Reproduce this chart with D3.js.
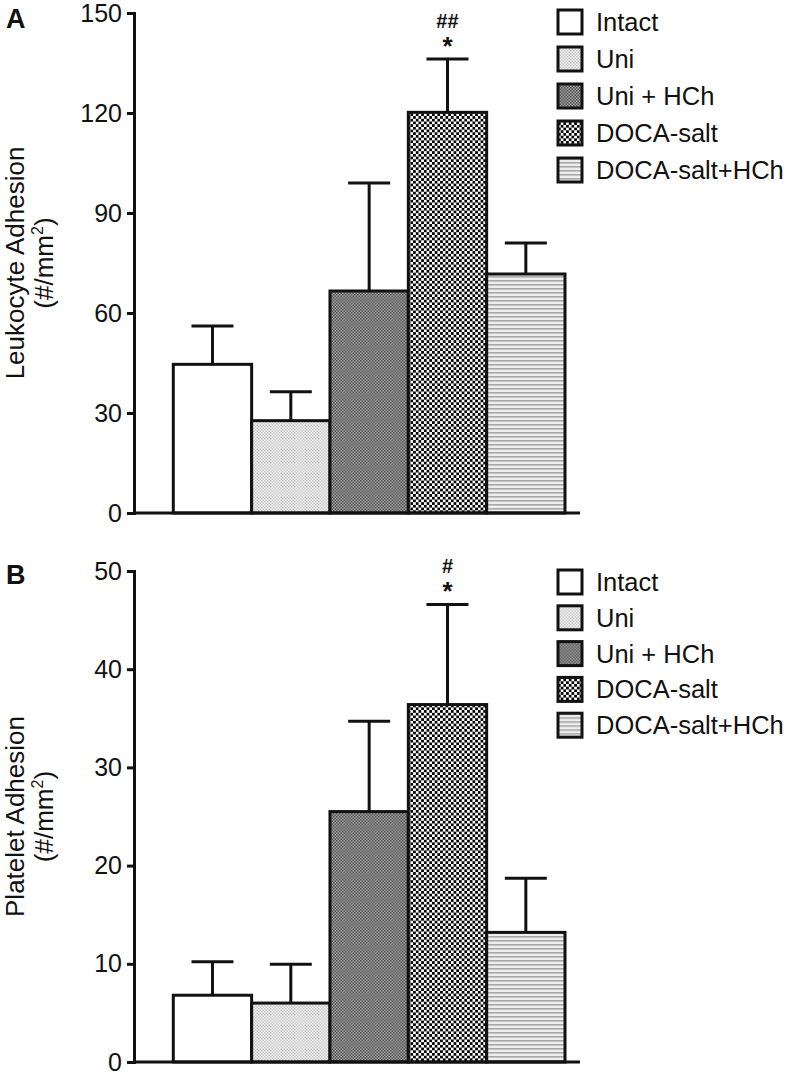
<!DOCTYPE html>
<html><head><meta charset="utf-8">
<script src="https://cdn.jsdelivr.net/npm/d3@7/dist/d3.min.js"></script>
<style>
body{margin:0;background:#fff;}
svg text{font-family:"Liberation Sans",Arial,Helvetica,sans-serif;fill:#111;}
</style></head>
<body>
<svg id="chart" width="789" height="1075"></svg>
<script>
const categories = ["Intact","Uni","Uni + HCh","DOCA-salt","DOCA-salt+HCh"];
const leukoMean = [44.6, 27.7, 66.6, 120.2, 71.7];
const leukoErr  = [11.5, 8.7, 32.4, 16.0, 9.3];
const plateMean = [6.8, 6.0, 25.5, 36.4, 13.2];
const plateErr  = [3.4, 3.95, 9.2, 10.2, 5.5];
const leukoTicks = [0, 30, 60, 90, 120, 150];
const plateTicks = [0, 10, 20, 30, 40, 50];
const leukoMarks = ["", "", "", "##", ""];
const plateMarks = ["", "", "", "#", ""];

const svg = d3.select("#chart");
const defs = svg.append("defs");
const fills = ["#ffffff", "url(#pUni)", "url(#pUniH)", "url(#pDoca)", "url(#pDocaH)"];

function checker(id, size, c1, c2){
  const p = defs.append("pattern").attr("id", id).attr("patternUnits","userSpaceOnUse")
    .attr("width", size*2).attr("height", size*2);
  p.append("rect").attr("width", size*2).attr("height", size*2).attr("fill", c1);
  p.append("rect").attr("width", size).attr("height", size).attr("fill", c2);
  p.append("rect").attr("x", size).attr("y", size).attr("width", size).attr("height", size).attr("fill", c2);
}
checker("pUni", 1.5, "#f2f2f2", "#c9c9c9");
checker("pUniH", 1.5, "#9a9a9a", "#5a5a5a");
checker("pDoca", 2.7, "#ffffff", "#000000");
{
  const p = defs.append("pattern").attr("id","pDocaH").attr("patternUnits","userSpaceOnUse")
    .attr("width", 4).attr("height", 4);
  p.append("rect").attr("width",4).attr("height",4).attr("fill","#eeeeee");
  p.append("rect").attr("y",0).attr("width",4).attr("height",1.6).attr("fill","#a8a8a8");
}

function panel(cfg){
  const g = svg.append("g");
  const y = d3.scaleLinear().domain([0, cfg.max]).range([cfg.y0, cfg.y1]);
  const x = d3.scaleBand().domain(categories).range([173.3, 565]).paddingInner(0).paddingOuter(0);
  const axisX = 134;

  // bars
  g.selectAll("rect.bar").data(categories).join("rect")
    .attr("x", d => x(d)).attr("width", x.bandwidth())
    .attr("y", (d,i) => y(cfg.mean[i])).attr("height", (d,i) => y(0) - y(cfg.mean[i]))
    .attr("fill", (d,i) => fills[i]).attr("stroke", "#111").attr("stroke-width", 3);

  // error bars
  const eb = g.selectAll("g.eb").data(categories).join("g");
  eb.append("line")
    .attr("x1", d => x(d) + x.bandwidth()/2).attr("x2", d => x(d) + x.bandwidth()/2)
    .attr("y1", (d,i) => y(cfg.mean[i])).attr("y2", (d,i) => y(cfg.mean[i] + cfg.err[i]))
    .attr("stroke", "#111").attr("stroke-width", 3);
  eb.append("line")
    .attr("x1", d => x(d) + x.bandwidth()/2 - 21).attr("x2", d => x(d) + x.bandwidth()/2 + 21)
    .attr("y1", (d,i) => y(cfg.mean[i] + cfg.err[i])).attr("y2", (d,i) => y(cfg.mean[i] + cfg.err[i]))
    .attr("stroke", "#111").attr("stroke-width", 3);

  // significance marks
  categories.forEach((c,i) => {
    if (!cfg.marks[i]) return;
    const cx = x(c) + x.bandwidth()/2;
    const top = y(cfg.mean[i] + cfg.err[i]);
    g.append("text").attr("x", cx).attr("y", top - 4).attr("text-anchor","middle")
      .attr("font-size", 26).attr("font-weight","bold").text("*");
    g.append("text").attr("x", cx).attr("y", top - 31).attr("text-anchor","middle")
      .attr("font-size", 20).attr("font-weight","bold").text(cfg.marks[i]);
  });

  // x baseline
  g.append("line").attr("x1", axisX).attr("x2", 580).attr("y1", y(0)).attr("y2", y(0))
    .attr("stroke", "#111").attr("stroke-width", 3);

  // y axis
  const ya = g.append("g").attr("transform", `translate(${axisX},0)`)
    .call(d3.axisLeft(y).tickValues(cfg.ticks).tickSize(7).tickSizeOuter(7).tickPadding(5));
  ya.selectAll("path,line").attr("stroke", "#111").attr("stroke-width", 3);
  ya.selectAll("text").attr("font-size", 25).attr("font-family", "Liberation Sans, Arial, sans-serif").attr("fill","#111");

  // y title
  const midY = (cfg.y0 + cfg.y1) / 2;
  g.append("text").attr("transform", `translate(24,${midY}) rotate(-90)`)
    .attr("text-anchor","middle").attr("font-size", 26).text(cfg.title);
  const t2 = g.append("text").attr("transform", `translate(53,${midY}) rotate(-90)`)
    .attr("text-anchor","middle").attr("font-size", 26);
  t2.append("tspan").text("(#/mm");
  t2.append("tspan").attr("font-size", 16).attr("dy", -10).text("2");
  t2.append("tspan").attr("dy", 10).text(")");

  // panel letter
  g.append("text").attr("x", 6).attr("y", cfg.letterY).attr("font-size", 27)
    .attr("font-weight", "bold").text(cfg.letter);

  // legend
  const lg = g.selectAll("g.lg").data(categories).join("g")
    .attr("transform", (d,i) => `translate(558,${cfg.legY + i*cfg.legStep})`);
  lg.append("rect").attr("x", 0).attr("y", -12).attr("width", 24).attr("height", 24)
    .attr("fill", (d,i) => fills[i]).attr("stroke", "#111").attr("stroke-width", 3);
  lg.append("text").attr("x", 38).attr("y", 9).attr("font-size", 25.5).text(d => d);
}

panel({max:150, y0:513, y1:13, mean:leukoMean, err:leukoErr, ticks:leukoTicks, marks:leukoMarks,
       title:"Leukocyte Adhesion", letter:"A", letterY:28, legY:22, legStep:37});
panel({max:50, y0:1062, y1:571, mean:plateMean, err:plateErr, ticks:plateTicks, marks:plateMarks,
       title:"Platelet Adhesion", letter:"B", letterY:584, legY:582, legStep:35.8});
</script>
</body></html>
